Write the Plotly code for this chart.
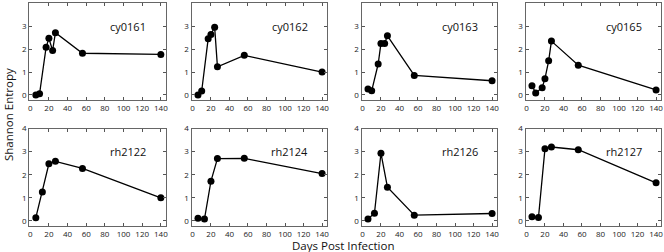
import plotly.graph_objects as go
from plotly.subplots import make_subplots

days_cy = [6, 10, 17, 20, 24, 27, 56, 140]
cy0161 = [0.0, 0.05, 2.08, 2.47, 1.94, 2.72, 1.82, 1.77]
cy0162 = [0.0, 0.17, 2.45, 2.64, 2.96, 1.23, 1.73, 1.0]
cy0163 = [0.26, 0.18, 1.35, 2.25, 2.25, 2.58, 0.85, 0.62]
cy0165 = [0.4, 0.09, 0.32, 0.71, 1.49, 2.35, 1.3, 0.22]

days_rh = [6, 13, 20, 27, 56, 140]
rh2122 = [0.14, 1.25, 2.47, 2.58, 2.27, 1.0]
rh2124 = [0.12, 0.08, 1.72, 2.70, 2.71, 2.05]
rh2126 = [0.08, 0.33, 2.93, 1.46, 0.25, 0.32]
rh2127 = [0.18, 0.15, 3.12, 3.20, 3.08, 1.65]

panels = [
    ("cy0161", days_cy, cy0161), ("cy0162", days_cy, cy0162),
    ("cy0163", days_cy, cy0163), ("cy0165", days_cy, cy0165),
    ("rh2122", days_rh, rh2122), ("rh2124", days_rh, rh2124),
    ("rh2126", days_rh, rh2126), ("rh2127", days_rh, rh2127),
]
x_ticks = [0, 20, 40, 60, 80, 100, 120, 140]
y_ticks = [0, 1, 2, 3, 4]

W, H = 664, 252
ML, MR, MT, MB = 29, 3, 3, 25
pw = W - ML - MR
ph = H - MT - MB

col_px = [(29.3, 165.5), (191.5, 326.7), (361.5, 496.7), (525.5, 660.7)]
row_px = [(3.3, 100.0), (128.5, 226.0)]

fig = make_subplots(rows=2, cols=4)

font_fam = "Open Sans, Lato, DejaVu Sans, sans-serif"
for i, (name, xs, ys) in enumerate(panels):
    r, c = i // 4 + 1, i % 4 + 1
    fig.add_trace(go.Scatter(x=xs, y=ys, mode="lines+markers",
                             line=dict(color="black", width=1.3),
                             marker=dict(color="black", size=7),
                             showlegend=False, cliponaxis=False), row=r, col=c)
    idx = "" if i == 0 else str(i + 1)
    x0, x1 = col_px[c - 1]
    y0, y1 = row_px[r - 1]
    fig.layout["xaxis" + idx].update(
        domain=[(x0 - ML) / pw, (x1 - ML) / pw], automargin=False,
        range=[-1, 145], tickvals=x_ticks, ticks="inside", ticklen=3,
        tickcolor="#555", showline=True, linecolor="#666", linewidth=1,
        mirror="ticks", showgrid=False, zeroline=False,
        tickfont=dict(size=8, color="#222", family=font_fam))
    fig.layout["yaxis" + idx].update(
        domain=[(MT + ph - y1) / ph, (MT + ph - y0) / ph], automargin=False,
        range=[-0.22, 4], tickvals=y_ticks, ticks="inside", ticklen=3,
        tickcolor="#555", showline=True, linecolor="#666", linewidth=1,
        mirror="ticks", showgrid=False, zeroline=False,
        tickfont=dict(size=8, color="#222", family=font_fam))
    fig.add_annotation(x=105, y=3.0, xref="x" + idx, yref="y" + idx,
                       xanchor="center", yanchor="middle",
                       text=name, showarrow=False,
                       font=dict(size=11, color="#111", family=font_fam))

fig.add_annotation(x=(343 - ML) / pw, y=(MT + ph - 245.5) / ph, xref="paper", yref="paper",
                   xanchor="center", yanchor="middle",
                   text="Days Post Infection", showarrow=False,
                   font=dict(size=11.5, color="#111", family=font_fam))
fig.add_annotation(x=(8 - ML) / pw, y=(MT + ph - 115) / ph, xref="paper", yref="paper",
                   xanchor="center", yanchor="middle",
                   text="Shannon Entropy", textangle=-90, showarrow=False,
                   font=dict(size=11.5, color="#111", family=font_fam))

fig.update_layout(width=W, height=H, margin=dict(l=ML, r=MR, t=MT, b=MB, autoexpand=False),
                  plot_bgcolor="white", paper_bgcolor="white")
fig.write_html("out.html", config={"displayModeBar": False},
               post_script="document.body.style.margin='0';document.body.style.padding='0';")
